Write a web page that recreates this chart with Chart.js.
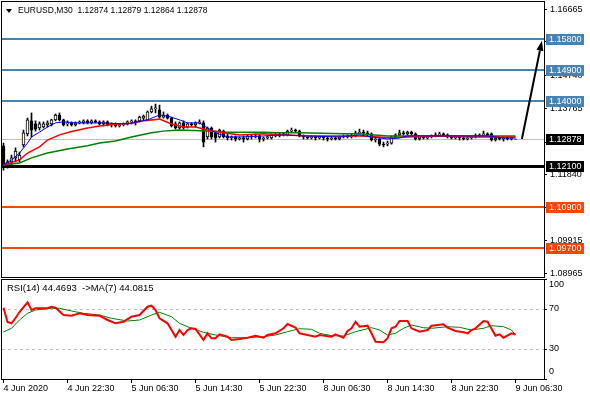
<!DOCTYPE html>
<html>
<head>
<meta charset="utf-8">
<script src="https://cdn.jsdelivr.net/npm/chart.js@4.4.1/dist/chart.umd.min.js"></script>
<style>
    html, body { margin: 0; padding: 0; background: #fff; }
    #wrap { position: relative; width: 590px; height: 400px; }
    #mainChart { position: absolute; left: 0; top: 0; }
    #rsiChart { position: absolute; left: 0; top: 279px; }
</style>
</head>
<body>
<div id="wrap">
    <canvas id="mainChart" width="590" height="279"></canvas>
    <canvas id="rsiChart" width="590" height="121"></canvas>
</div>
<script>
// EURUSD M30 candles, 4 Jun 14:30 .. 9 Jun 06:30
const opens = [
    1.1268, 1.1212, 1.1221, 1.1233, 1.1227, 1.1271, 1.1303, 1.1341, 1.1332, 1.1320,
    1.1323, 1.1329, 1.1332, 1.1344, 1.1358, 1.1344, 1.1332, 1.1335, 1.1329, 1.1335,
    1.1335, 1.1341, 1.1335, 1.1341, 1.1338, 1.1332, 1.1338, 1.1329, 1.1332, 1.1326,
    1.1329, 1.1332, 1.1338, 1.1341, 1.1341, 1.1349, 1.1344, 1.1367, 1.1376, 1.1373,
    1.1352, 1.1358, 1.1349, 1.1332, 1.1320, 1.1335, 1.1323, 1.1332, 1.1329, 1.1335,
    1.1335, 1.1294, 1.1320, 1.1306, 1.1294, 1.1311, 1.1297, 1.1291, 1.1294, 1.1288,
    1.1291, 1.1288, 1.1297, 1.1294, 1.1297, 1.1288, 1.1291, 1.1291, 1.1297, 1.1297,
    1.1300, 1.1300, 1.1311, 1.1314, 1.1311, 1.1297, 1.1294, 1.1291, 1.1294, 1.1291,
    1.1294, 1.1291, 1.1288, 1.1291, 1.1288, 1.1294, 1.1297, 1.1294, 1.1297, 1.1306,
    1.1308, 1.1306, 1.1303, 1.1285, 1.1288, 1.1273, 1.1273, 1.1276, 1.1294, 1.1300,
    1.1306, 1.1303, 1.1308, 1.1303, 1.1288, 1.1294, 1.1291, 1.1294, 1.1297, 1.1300,
    1.1303, 1.1300, 1.1294, 1.1291, 1.1294, 1.1291, 1.1288, 1.1291, 1.1294, 1.1297,
    1.1300, 1.1303, 1.1303, 1.1285, 1.1291, 1.1288, 1.1291, 1.1288, 1.12874
];
const highs = [
    1.1276, 1.1227, 1.1241, 1.1262, 1.1250, 1.1314, 1.1349, 1.1364, 1.1341, 1.1338,
    1.1338, 1.1341, 1.1346, 1.1361, 1.1364, 1.1346, 1.1341, 1.1338, 1.1338, 1.1341,
    1.1344, 1.1344, 1.1344, 1.1344, 1.1341, 1.1341, 1.1341, 1.1335, 1.1335, 1.1332,
    1.1335, 1.1341, 1.1344, 1.1344, 1.1355, 1.1358, 1.1370, 1.1384, 1.1390, 1.1387,
    1.1367, 1.1361, 1.1352, 1.1338, 1.1338, 1.1341, 1.1335, 1.1335, 1.1338, 1.1344,
    1.1341, 1.1323, 1.1323, 1.1311, 1.1317, 1.1314, 1.1303, 1.1297, 1.1297, 1.1294,
    1.1297, 1.1300, 1.1300, 1.1303, 1.1300, 1.1294, 1.1297, 1.1303, 1.1306, 1.1306,
    1.1306, 1.1314, 1.1320, 1.1317, 1.1314, 1.1300, 1.1297, 1.1297, 1.1297, 1.1297,
    1.1297, 1.1294, 1.1294, 1.1294, 1.1297, 1.1300, 1.1300, 1.1303, 1.1311, 1.1317,
    1.1314, 1.1311, 1.1306, 1.1291, 1.1291, 1.1279, 1.1282, 1.1297, 1.1303, 1.1314,
    1.1311, 1.1311, 1.1311, 1.1306, 1.1297, 1.1297, 1.1297, 1.1300, 1.1306, 1.1308,
    1.1306, 1.1303, 1.1297, 1.1297, 1.1297, 1.1294, 1.1294, 1.1297, 1.1303, 1.1303,
    1.1311, 1.1306, 1.1306, 1.1294, 1.1294, 1.1294, 1.1294, 1.1294, 1.12879
];
const lows = [
    1.1197, 1.1203, 1.1209, 1.1221, 1.1221, 1.1265, 1.1297, 1.1294, 1.1311, 1.1314,
    1.1320, 1.1323, 1.1326, 1.1341, 1.1341, 1.1326, 1.1326, 1.1326, 1.1326, 1.1332,
    1.1332, 1.1332, 1.1332, 1.1335, 1.1329, 1.1326, 1.1326, 1.1323, 1.1323, 1.1323,
    1.1326, 1.1329, 1.1332, 1.1329, 1.1338, 1.1344, 1.1341, 1.1364, 1.1364, 1.1349,
    1.1349, 1.1346, 1.1323, 1.1317, 1.1317, 1.1317, 1.1320, 1.1326, 1.1323, 1.1332,
    1.1265, 1.1288, 1.1288, 1.1279, 1.1291, 1.1291, 1.1285, 1.1285, 1.1282, 1.1285,
    1.1279, 1.1285, 1.1288, 1.1291, 1.1279, 1.1282, 1.1288, 1.1288, 1.1294, 1.1294,
    1.1297, 1.1297, 1.1308, 1.1308, 1.1294, 1.1288, 1.1288, 1.1288, 1.1285, 1.1288,
    1.1285, 1.1282, 1.1285, 1.1285, 1.1285, 1.1291, 1.1291, 1.1291, 1.1294, 1.1303,
    1.1300, 1.1297, 1.1282, 1.1279, 1.1268, 1.1265, 1.1268, 1.1273, 1.1291, 1.1297,
    1.1300, 1.1300, 1.1300, 1.1285, 1.1285, 1.1288, 1.1288, 1.1291, 1.1294, 1.1297,
    1.1297, 1.1291, 1.1288, 1.1288, 1.1285, 1.1285, 1.1285, 1.1288, 1.1291, 1.1294,
    1.1297, 1.1297, 1.1282, 1.1282, 1.1285, 1.1282, 1.1285, 1.1285, 1.12864
];
const closes = [
    1.1206, 1.1221, 1.1233, 1.1253, 1.1241, 1.1306, 1.1344, 1.1314, 1.1317, 1.1332,
    1.1332, 1.1335, 1.1344, 1.1358, 1.1344, 1.1329, 1.1335, 1.1329, 1.1335, 1.1338,
    1.1341, 1.1335, 1.1341, 1.1338, 1.1332, 1.1338, 1.1329, 1.1332, 1.1326, 1.1329,
    1.1332, 1.1338, 1.1341, 1.1335, 1.1352, 1.1355, 1.1367, 1.1376, 1.1379, 1.1352,
    1.1358, 1.1349, 1.1326, 1.1320, 1.1335, 1.1320, 1.1332, 1.1329, 1.1335, 1.1338,
    1.1279, 1.1320, 1.1294, 1.1291, 1.1314, 1.1294, 1.1291, 1.1294, 1.1288, 1.1291,
    1.1288, 1.1297, 1.1294, 1.1297, 1.1288, 1.1291, 1.1294, 1.1300, 1.1300, 1.1303,
    1.1303, 1.1311, 1.1314, 1.1311, 1.1297, 1.1294, 1.1291, 1.1294, 1.1291, 1.1294,
    1.1291, 1.1288, 1.1291, 1.1288, 1.1294, 1.1297, 1.1294, 1.1297, 1.1306, 1.1308,
    1.1306, 1.1303, 1.1285, 1.1288, 1.1273, 1.1271, 1.1276, 1.1294, 1.1300, 1.1306,
    1.1303, 1.1308, 1.1303, 1.1288, 1.1294, 1.1291, 1.1294, 1.1297, 1.1300, 1.1303,
    1.1300, 1.1294, 1.1291, 1.1294, 1.1291, 1.1288, 1.1291, 1.1294, 1.1297, 1.1300,
    1.1303, 1.1300, 1.1285, 1.1291, 1.1288, 1.1291, 1.1288, 1.1291, 1.12878
];

// moving averages: [bar, price]
const maFast = [[0,1.1212],[2,1.1227],[4,1.1247],[6,1.1276],[7,1.1294],[9,1.1308],[11,1.1323],[13,1.1335],[15,1.1338],[18,1.1335],[24,1.1335],[31,1.1332],[36,1.1344],[39,1.1358],[41,1.1355],[44,1.1344],[46,1.1335],[49,1.1335],[51,1.1320],[53,1.1306],[56,1.1294],[60,1.1294],[65,1.1297],[70,1.1300],[75,1.1297],[84,1.1294],[89,1.1300],[92,1.1294],[96,1.1288],[99,1.1291],[101,1.1297],[106,1.1297],[113,1.1297],[118,1.1297],[121,1.1297],[125,1.1291],[128,1.1291]];
const maMid = [[0,1.1212],[4,1.1227],[6,1.1247],[9,1.1265],[11,1.1285],[14,1.1300],[17,1.1310],[21,1.1320],[24,1.1326],[28,1.1331],[32,1.1334],[35,1.1341],[39,1.1346],[42,1.1332],[45,1.1323],[48,1.1323],[51,1.1314],[55,1.1306],[59,1.1300],[65,1.1303],[71,1.1300],[76,1.1297],[84,1.1297],[89,1.1297],[94,1.1294],[97,1.1291],[101,1.1294],[109,1.1297],[117,1.1294],[124,1.1294],[128,1.1294]];
const maSlow = [[0,1.1212],[4,1.1218],[7,1.1233],[11,1.1247],[16,1.1259],[21,1.1268],[24,1.1276],[28,1.1282],[32,1.1294],[37,1.1306],[40,1.1311],[44,1.1314],[51,1.1311],[56,1.1308],[65,1.1308],[69,1.1306],[74,1.1306],[85,1.1303],[89,1.1303],[96,1.1297],[101,1.1297],[109,1.1297],[117,1.1297],[124,1.1297],[128,1.1297]];

// RSI(14) and its MA(7): [bar, value]
const rsiLine = [[0,71.3],[1,57],[2,55.7],[3,61],[4,67],[6,76.7],[7,69],[8,70.7],[11,70.7],[12,72.3],[13,71.3],[15,64],[17,63.3],[19,65.7],[21,64],[24,63.3],[26,59],[28,55.7],[30,57.3],[32,62.3],[34,64],[36,72.3],[37,73.3],[38,69],[39,60.7],[41,55.7],[42,49],[43,42.3],[44,49],[45,44],[46,49],[47,50.7],[48,50],[50,39],[51,45.7],[52,40.7],[53,40.7],[54,44.7],[56,42.3],[57,39],[59,40],[61,41.3],[63,43.3],[65,41.3],[66,44],[68,45.7],[70,50.7],[71,55],[73,51.5],[74,45.7],[76,44],[78,42.3],[79,44],[82,42.3],[83,44.7],[85,41.3],[86,48],[87,50.7],[88,57.3],[89,52.3],[91,53.3],[92,45.7],[93,37.3],[95,36.7],[96,40.7],[97,50.7],[98,52.3],[99,58],[101,58],[102,50.7],[104,47.3],[106,49],[107,53.3],[110,54.7],[111,51.3],[113,48],[115,46.7],[116,45.7],[117,49],[118,50.7],[120,58],[121,57.3],[123,43.3],[124,44.7],[125,41.3],[127,45.7],[128,44.4693]];
const rsiMa = [[0,47],[2,50.7],[4,59],[6,65.7],[8,69],[12,70.7],[14,70.7],[17,68],[20,65.7],[24,64],[27,60.7],[31,58],[34,59],[37,64],[39,66.7],[42,62.3],[44,55.7],[47,50.7],[50,46.7],[53,44],[57,41.3],[61,41.3],[65,42.3],[68,44],[71,47.3],[74,50.3],[77,49.7],[79,45.7],[82,43.3],[85,43],[88,47.3],[92,51.3],[94,49],[96,44],[98,45.7],[100,50.7],[102,54],[105,51.3],[107,50.7],[111,52.3],[114,51.7],[117,49],[120,50.7],[122,53.3],[125,52.3],[127,49],[128,44.0815]];

// horizontal levels and axis ticks
const resistanceLevels = [1.158, 1.149, 1.140];
const pivotLevel = 1.121;
const supportLevels = [1.109, 1.097];
const priceTicks = [1.16665, 1.15715, 1.14740, 1.13765, 1.12790, 1.11840, 1.10890, 1.09915, 1.08965];
const rsiTicks = [100, 70, 30, 0];
const rsiLevels = [70, 30];
const timeLabelBars = [0, 16, 32, 48, 64, 80, 96, 112, 128];
const timeLabels = ['4 Jun 2020', '4 Jun 22:30', '5 Jun 06:30', '5 Jun 14:30', '5 Jun 22:30', '8 Jun 06:30', '8 Jun 14:30', '8 Jun 22:30', '9 Jun 06:30'];
const arrowFrom = [129.6, 1.12878];
const arrowTo = [134.6, 1.1575];

const FONT = '"Liberation Sans", Arial, sans-serif';
Chart.defaults.font.family = FONT;
Chart.defaults.font.size = 9;
Chart.defaults.color = '#000';

const last = opens.length - 1;
const lastPrice = closes[last];
const X_MIN = -0.375, X_MAX = 135.125;

function toXY(pairs) {
    return pairs.map(p => ({ x: p[0], y: p[1] }));
}

function hLine(ctx, area, y, color, width, dash) {
    ctx.beginPath();
    ctx.strokeStyle = color;
    ctx.lineWidth = width;
    ctx.setLineDash(dash || []);
    const yy = width % 2 ? Math.round(y) + 0.5 : Math.round(y);
    ctx.moveTo(area.left, yy);
    ctx.lineTo(area.right, yy);
    ctx.stroke();
    ctx.setLineDash([]);
}

function priceBox(ctx, y, text, bg) {
    ctx.fillStyle = bg;
    ctx.fillRect(546, Math.round(y) - 5, 38, 11);
    ctx.fillStyle = '#fff';
    ctx.font = '9px ' + FONT;
    ctx.textAlign = 'left';
    ctx.textBaseline = 'middle';
    ctx.fillText(text, 549, Math.round(y) + 0.5);
}

function frame(ctx, a) {
    ctx.strokeStyle = '#000';
    ctx.lineWidth = 1;
    ctx.strokeRect(Math.floor(a.left) - 0.5, Math.floor(a.top) + 0.5, Math.round(a.right - a.left) + 1, Math.round(a.bottom - a.top));
}

const mainDecor = {
    id: 'mainDecor',
    beforeDatasetsDraw(chart) {
        const { ctx, chartArea: a, scales: { y } } = chart;
        ctx.save();
        hLine(ctx, a, y.getPixelForValue(lastPrice), '#c0c0c0', 1);
        resistanceLevels.forEach(v => hLine(ctx, a, y.getPixelForValue(v), '#4682b4', 2));
        supportLevels.forEach(v => hLine(ctx, a, y.getPixelForValue(v), '#ff4500', 2));
        hLine(ctx, a, y.getPixelForValue(pivotLevel), '#000', 3);
        ctx.restore();
    },
    afterDatasetsDraw(chart) {
        // arrow towards the target
        const { ctx, scales: { x, y } } = chart;
        const x0 = x.getPixelForValue(arrowFrom[0]), y0 = y.getPixelForValue(arrowFrom[1]);
        const x1 = x.getPixelForValue(arrowTo[0]), y1 = y.getPixelForValue(arrowTo[1]);
        const ang = Math.atan2(y1 - y0, x1 - x0);
        const len = 10, half = 3.5;
        const bx = x1 - len * Math.cos(ang), by = y1 - len * Math.sin(ang);
        ctx.save();
        ctx.strokeStyle = '#000';
        ctx.fillStyle = '#000';
        ctx.lineWidth = 2;
        ctx.beginPath();
        ctx.moveTo(x0, y0);
        ctx.lineTo(bx, by);
        ctx.stroke();
        ctx.beginPath();
        ctx.moveTo(x1, y1);
        ctx.lineTo(bx + half * Math.sin(ang), by - half * Math.cos(ang));
        ctx.lineTo(bx - half * Math.sin(ang), by + half * Math.cos(ang));
        ctx.closePath();
        ctx.fill();
        ctx.restore();
    },
    afterDraw(chart) {
        const { ctx, chartArea: a, scales: { y } } = chart;
        ctx.save();
        frame(ctx, a);
        resistanceLevels.forEach(v => priceBox(ctx, y.getPixelForValue(v), v.toFixed(5), '#4682b4'));
        priceBox(ctx, y.getPixelForValue(lastPrice), lastPrice.toFixed(5), '#000');
        priceBox(ctx, y.getPixelForValue(pivotLevel), pivotLevel.toFixed(5), '#000');
        supportLevels.forEach(v => priceBox(ctx, y.getPixelForValue(v), v.toFixed(5), '#ff4500'));
        // title
        ctx.fillStyle = '#000';
        ctx.beginPath();
        ctx.moveTo(6, 9);
        ctx.lineTo(12, 9);
        ctx.lineTo(9, 13);
        ctx.closePath();
        ctx.fill();
        ctx.font = '8.5px ' + FONT;
        ctx.textAlign = 'left';
        ctx.textBaseline = 'middle';
        ctx.fillText('EURUSD,M30  ' + [opens[last], highs[last], lows[last], closes[last]].map(v => v.toFixed(5)).join(' '), 18, 11);
        ctx.restore();
    }
};

const rsiDecor = {
    id: 'rsiDecor',
    beforeDatasetsDraw(chart) {
        const { ctx, chartArea: a, scales: { y } } = chart;
        ctx.save();
        rsiLevels.forEach(v => hLine(ctx, a, y.getPixelForValue(v), '#c0c0c0', 1, [3, 3]));
        ctx.restore();
    },
    afterDraw(chart) {
        const { ctx, chartArea: a, scales: { y } } = chart;
        ctx.save();
        frame(ctx, a);
        ctx.fillStyle = '#000';
        ctx.font = '9px ' + FONT;
        ctx.textAlign = 'left';
        ctx.textBaseline = 'middle';
        rsiTicks.forEach(v => {
            const py = Math.min(Math.max(y.getPixelForValue(v), a.top + 6), a.bottom - 7);
            ctx.fillText(String(v), 549, py);
        });
        const rsiLast = rsiLine[rsiLine.length - 1][1];
        const maLast = rsiMa[rsiMa.length - 1][1];
        ctx.font = '9.5px ' + FONT;
        ctx.fillText('RSI(14) ' + rsiLast.toFixed(4) + '  ->MA(7) ' + maLast.toFixed(4), 7, 9);
        ctx.restore();
    }
};

function fixWidth(scale) {
    scale.width = 46;
    scale.paddingTop = 0;
    scale.paddingBottom = 0;
}

// Price chart
new Chart(document.getElementById('mainChart'), {
    type: 'bar',
    data: {
        datasets: [
            {
                type: 'line', label: 'MA fast', data: toXY(maFast), order: 0,
                borderColor: '#0000ff', borderWidth: 1, pointRadius: 0, tension: 0
            },
            {
                type: 'line', label: 'MA mid', data: toXY(maMid), order: 0,
                borderColor: '#ff0000', borderWidth: 1.5, pointRadius: 0, tension: 0
            },
            {
                type: 'line', label: 'MA slow', data: toXY(maSlow), order: 0,
                borderColor: '#008000', borderWidth: 1.5, pointRadius: 0, tension: 0
            },
            {
                label: 'Body', order: 1, grouped: false,
                data: opens.map((o, i) => ({ x: i, y: [Math.min(o, closes[i]), Math.max(o, closes[i])] })),
                backgroundColor: ctx => closes[ctx.dataIndex] >= opens[ctx.dataIndex] ? '#ffffff' : '#000000',
                borderColor: '#000', borderWidth: 1, borderSkipped: false, barThickness: 3
            },
            {
                label: 'Wick', order: 2, grouped: false,
                data: opens.map((o, i) => ({ x: i, y: [lows[i], highs[i]] })),
                backgroundColor: '#000', borderWidth: 0, barThickness: 1
            }
        ]
    },
    options: {
        responsive: false,
        animation: false,
        devicePixelRatio: 1,
        layout: { padding: { left: 2, top: 1, right: 0, bottom: 2 } },
        plugins: { legend: { display: false }, tooltip: { enabled: false } },
        scales: {
            x: {
                type: 'linear', min: X_MIN, max: X_MAX, offset: false, display: false,
                grid: { offset: false }
            },
            y: {
                position: 'right', min: 1.0885, max: 1.1691, beginAtZero: false,
                afterBuildTicks: scale => { scale.ticks = priceTicks.map(v => ({ value: v })); },
                afterFit: fixWidth,
                ticks: { callback: v => v.toFixed(5), padding: 3, color: '#000', font: { size: 9 } },
                grid: { drawOnChartArea: false, tickLength: 3, color: '#000' },
                border: { color: '#000' }
            }
        }
    },
    plugins: [mainDecor]
});

// RSI chart
new Chart(document.getElementById('rsiChart'), {
    type: 'line',
    data: {
        datasets: [
            {
                label: 'RSI(14)', data: toXY(rsiLine),
                borderColor: '#ff0000', borderWidth: 2, pointRadius: 0, tension: 0
            },
            {
                label: 'MA(7)', data: toXY(rsiMa),
                borderColor: '#008000', borderWidth: 1, pointRadius: 0, tension: 0
            }
        ]
    },
    options: {
        responsive: false,
        animation: false,
        devicePixelRatio: 1,
        layout: { padding: { left: 2, top: 0, right: 0, bottom: 0 } },
        plugins: { legend: { display: false }, tooltip: { enabled: false } },
        scales: {
            x: {
                type: 'linear', min: X_MIN, max: X_MAX, offset: false,
                afterBuildTicks: scale => { scale.ticks = timeLabelBars.map(v => ({ value: v })); },
                afterFit: scale => { scale.height = 21; scale.paddingLeft = 0; scale.paddingRight = 0; },
                ticks: {
                    align: 'start', autoSkip: false, maxRotation: 0, padding: 0,
                    callback: v => timeLabels[timeLabelBars.indexOf(v)] || ''
                },
                grid: { drawOnChartArea: false, tickLength: 4, color: '#000' },
                border: { color: '#000' }
            },
            y: {
                position: 'right', min: 0, max: 100,
                afterBuildTicks: scale => { scale.ticks = rsiTicks.map(v => ({ value: v })); },
                afterFit: fixWidth,
                ticks: { display: false },
                grid: { drawOnChartArea: false, tickLength: 3, color: '#000' },
                border: { color: '#000' }
            }
        }
    },
    plugins: [rsiDecor]
});
</script>
</body>
</html>
